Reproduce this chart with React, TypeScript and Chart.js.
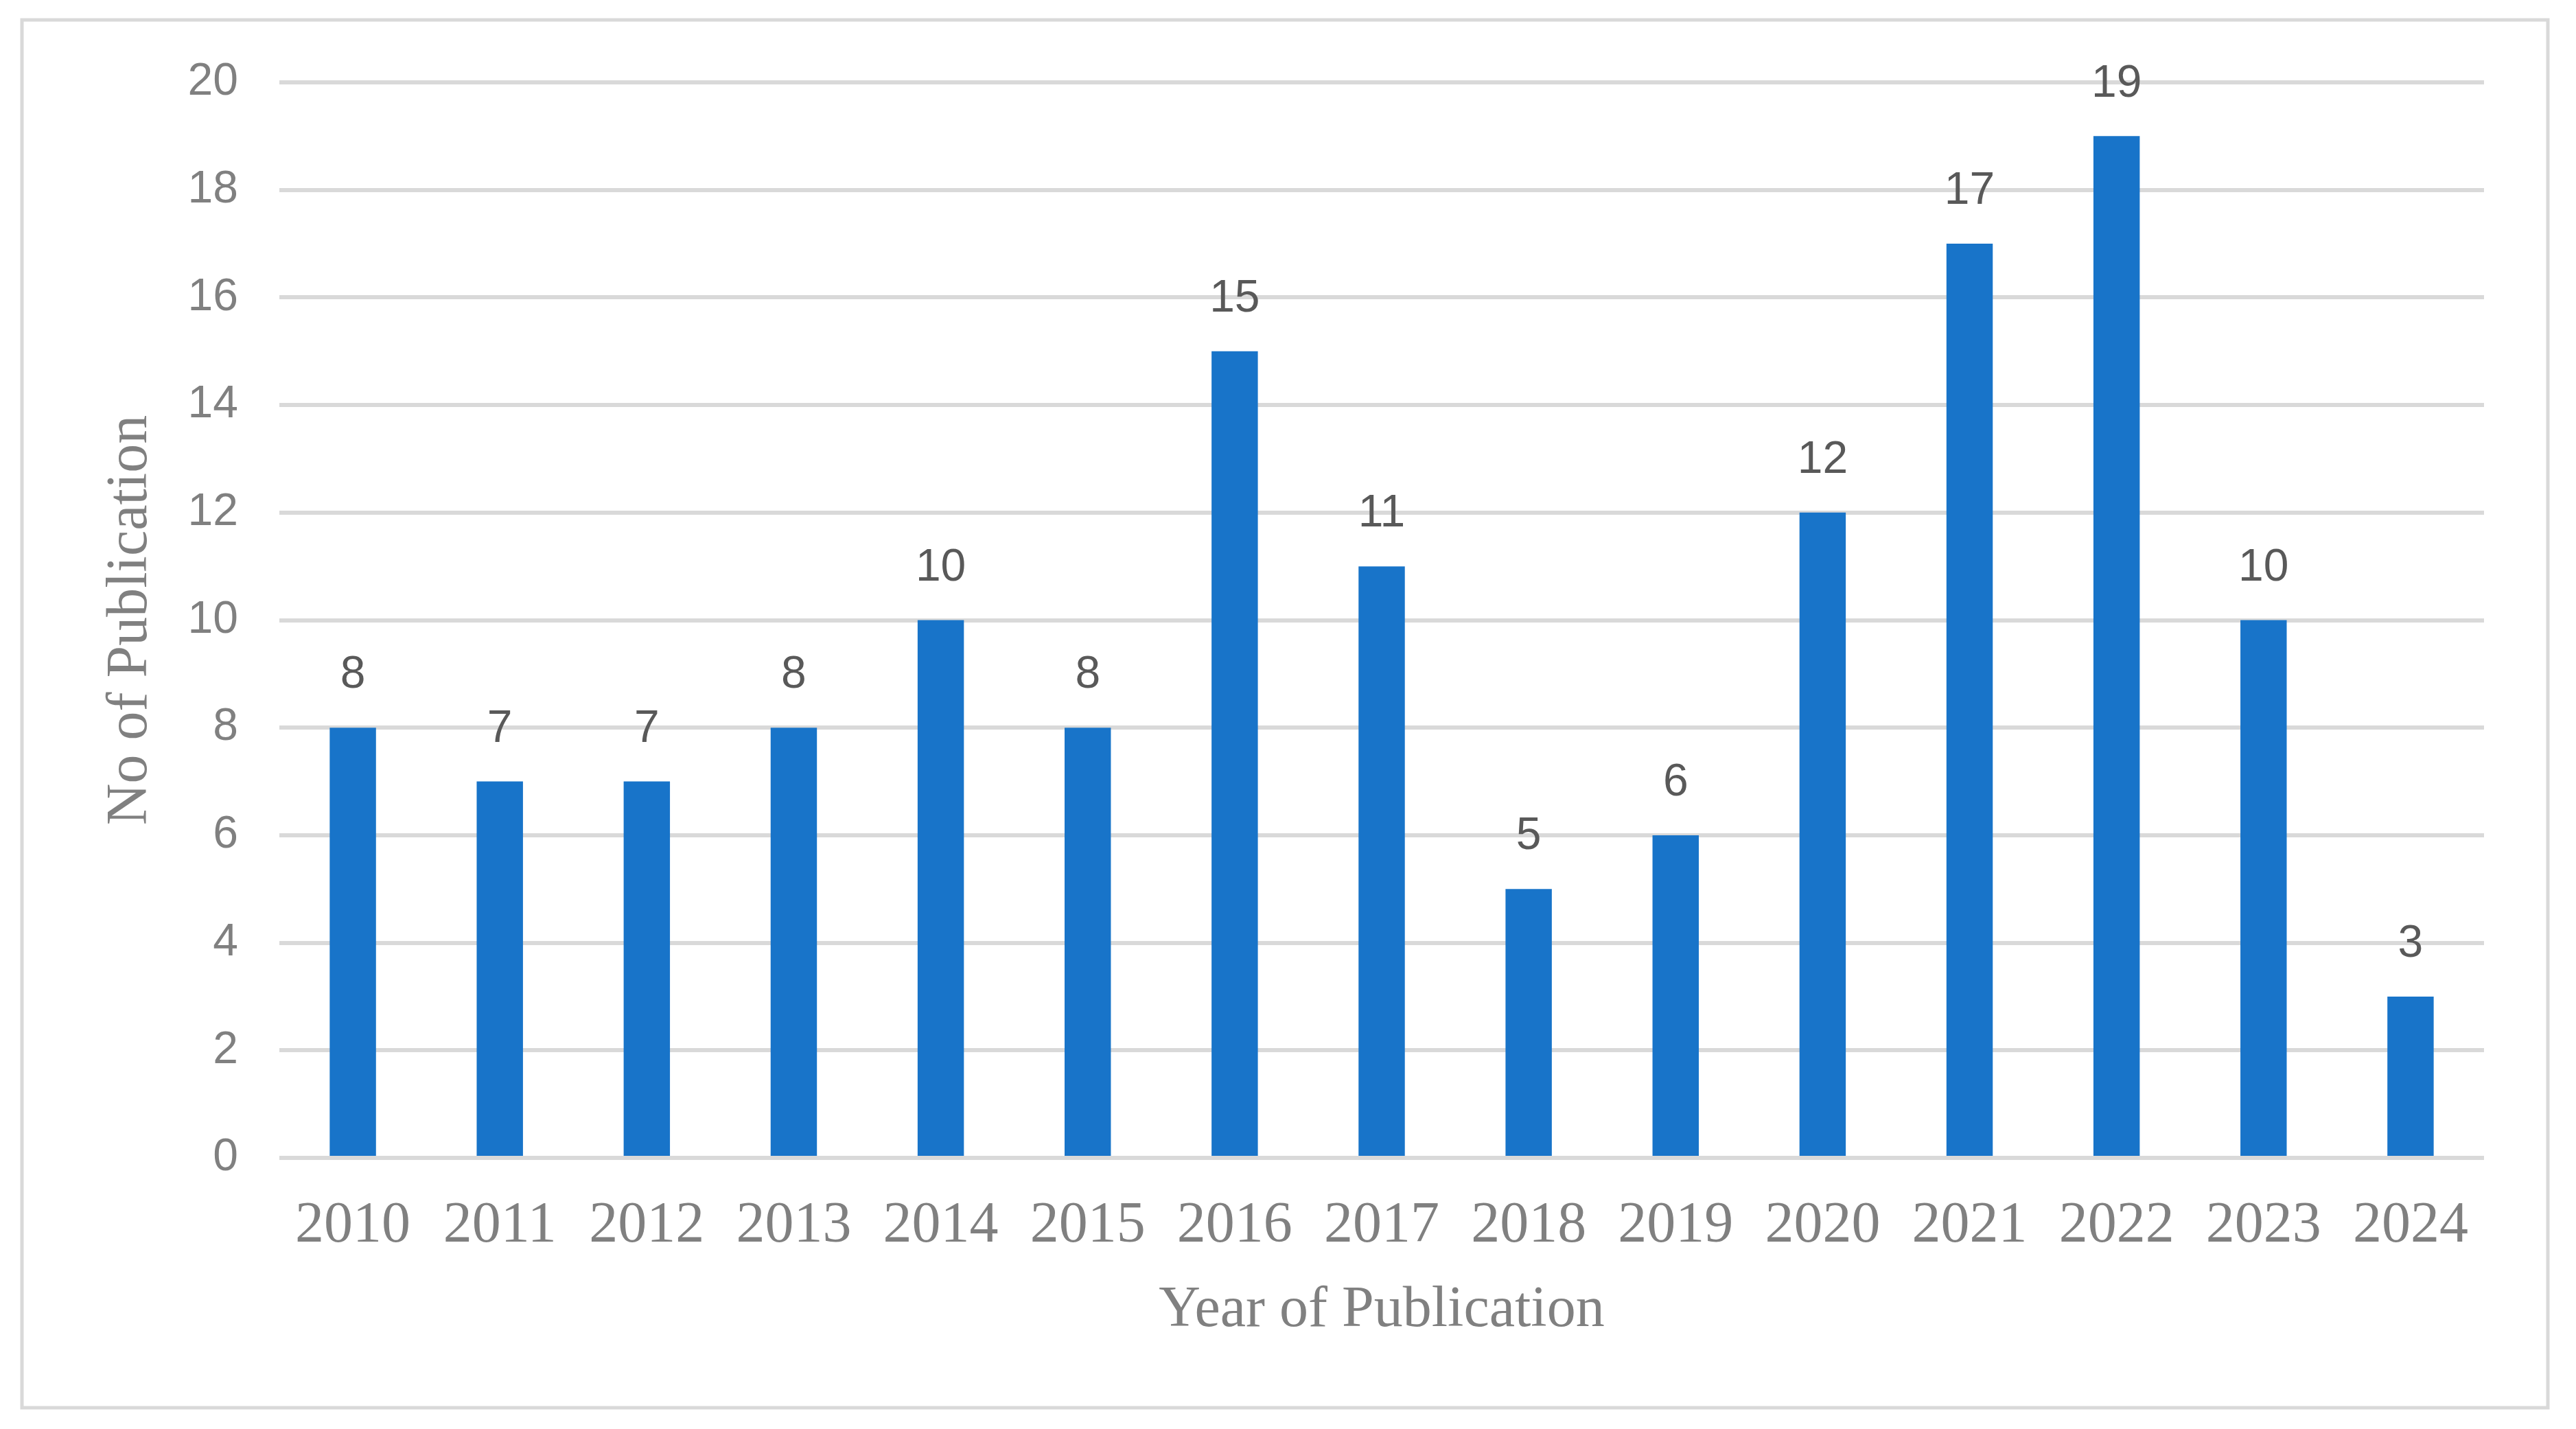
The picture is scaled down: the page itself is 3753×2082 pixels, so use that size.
import React, { useEffect, useRef } from "react";
import { Chart, registerables } from "chart.js";

Chart.register(...registerables);

const years: string[] = ["2010", "2011", "2012", "2013", "2014", "2015", "2016", "2017", "2018", "2019", "2020", "2021", "2022", "2023", "2024"];
const publications: number[] = [8, 7, 7, 8, 10, 8, 15, 11, 5, 6, 12, 17, 19, 10, 3];
const yMin = 0;
const yMax = 20;
const yStep = 2;
const xTitle = "Year of Publication";
const yTitle = "No of Publication";

const W = 3753;
const H = 2082;

const SANS = '"Liberation Sans", Arial, sans-serif';
const SERIF = '"Liberation Serif", "Times New Roman", serif';

const framePlugin = {
  id: "frame",
  beforeDraw(chart: any) {
    const ctx = chart.ctx;
    ctx.save();
    ctx.fillStyle = "#ffffff";
    ctx.fillRect(0, 0, chart.width, chart.height);
    ctx.strokeStyle = "#d9d9d9";
    ctx.lineWidth = 5;
    ctx.strokeRect(32, 29, 3680, 2022);
    ctx.restore();
  },
};

const valueLabelPlugin = {
  id: "valueLabels",
  afterDatasetsDraw(chart: any) {
    const ctx = chart.ctx;
    ctx.save();
    ctx.font = `66px ${SANS}`;
    ctx.fillStyle = "#595959";
    ctx.textAlign = "center";
    ctx.textBaseline = "middle";
    chart.data.datasets.forEach((ds: any, di: number) => {
      const meta = chart.getDatasetMeta(di);
      meta.data.forEach((el: any, i: number) => {
        ctx.fillText(String(ds.data[i]), el.x, el.y - 76);
      });
    });
    ctx.restore();
  },
};

export default function App() {
  const ref = useRef<HTMLCanvasElement | null>(null);

  useEffect(() => {
    if (!ref.current) return;
    const chart = new Chart(ref.current, {
      type: "bar",
      data: {
        labels: years,
        datasets: [
          {
            data: publications,
            backgroundColor: "#1874C9",
            borderWidth: 0,
            barPercentage: 0.315,
            categoryPercentage: 1,
          },
        ],
      },
      options: {
        responsive: false,
        animation: false,
        devicePixelRatio: 1,
        layout: { padding: { left: 0, top: 120, right: 134, bottom: 0 } },
        plugins: {
          legend: { display: false },
          tooltip: { enabled: false },
          title: { display: false },
        },
        scales: {
          x: {
            grid: { display: false, drawTicks: false },
            border: { display: false },
            ticks: {
              color: "#808080",
              font: { family: SERIF, size: 84 },
              padding: 50,
              maxRotation: 0,
              autoSkip: false,
            },
            title: {
              display: true,
              text: xTitle,
              color: "#808080",
              font: { family: SERIF, size: 84 },
              padding: { top: 0, bottom: 122 },
            },
            afterFit(scale: any) {
              scale.height = 395;
            },
          },
          y: {
            min: yMin,
            max: yMax,
            grid: { color: "#d9d9d9", lineWidth: 6, drawTicks: false },
            border: { display: false },
            ticks: {
              stepSize: yStep,
              color: "#808080",
              font: { family: SANS, size: 66 },
              padding: 60,
            },
            title: {
              display: true,
              text: yTitle,
              color: "#808080",
              font: { family: SERIF, size: 84 },
              padding: { top: 141, bottom: 0 },
            },
            afterFit(scale: any) {
              scale.width = 407;
            },
          },
        },
      },
      plugins: [framePlugin, valueLabelPlugin],
    });
    return () => chart.destroy();
  }, []);

  return (
    <div style={{ position: "fixed", left: 0, top: 0, width: W, height: H, background: "#fff" }}>
      <canvas ref={ref} width={W} height={H} style={{ display: "block", width: W, height: H }} />
    </div>
  );
}
